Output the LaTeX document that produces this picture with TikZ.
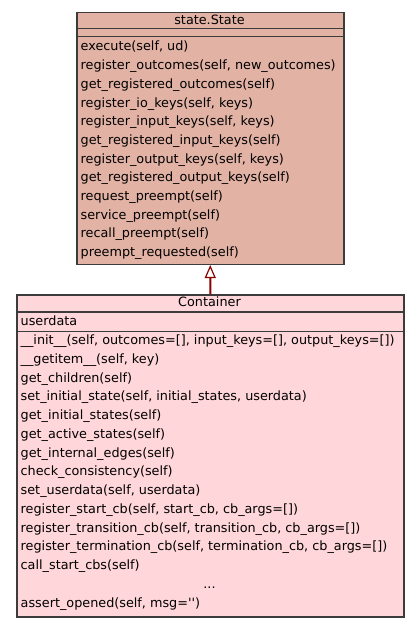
\documentclass[tikz,border=0pt]{standalone}
\usepackage{fontspec}
\newfontfamily\dv{DejaVu Sans}
\usetikzlibrary{arrows.meta}
\definecolor{statefill}{RGB}{226,178,165}
\definecolor{contfill}{RGB}{255,214,218}
\definecolor{boxline}{RGB}{60,60,60}
\definecolor{inhred}{RGB}{140,0,0}
\begin{document}
\begin{tikzpicture}[x=1bp,y=-1bp,
  box/.style={draw=boxline, line width=1.5bp, rectangle, inner sep=0pt, anchor=north west},
  sep/.style={draw=boxline, line width=1.5bp},
  txt/.style={inner sep=0pt, anchor=base west, font=\dv\fontsize{12.8bp}{15bp}\selectfont, text=black},
  ctxt/.style={txt, anchor=base},
  inh/.style={draw=inhred, line width=2bp, -{Triangle[open, length=13bp, width=11bp, line width=1.2bp]}}
]
\useasboundingbox (0,0) rectangle (419,627);
% State box
\node[box, fill=statefill, minimum width=267bp, minimum height=251.5bp] (state) at (76,12) {};
\draw[sep] (76,28.5) -- (343,28.5);
\draw[sep] (76,36.5) -- (343,36.5);
\node[ctxt] (sh) at (209.5,24.5) {state.State};
\foreach \t [count=\i from 0] in {
  execute(self{,} ud),
  register\_outcomes(self{,} new\_outcomes),
  get\_registered\_outcomes(self),
  register\_io\_keys(self{,} keys),
  register\_input\_keys(self{,} keys),
  get\_registered\_input\_keys(self),
  register\_output\_keys(self{,} keys),
  get\_registered\_output\_keys(self),
  request\_preempt(self),
  service\_preempt(self),
  recall\_preempt(self),
  preempt\_requested(self)}
  \node[txt] (sm\i) at (80.5,51+18.68*\i) {\t};
% Container box
\node[box, fill=contfill, minimum width=387bp, minimum height=322bp] (cont) at (16,294) {};
\draw[sep] (16,312) -- (403,312);
\draw[sep] (16,331.5) -- (403,331.5);
\node[ctxt] (ch) at (209.5,306.5) {Container};
\node[txt] (ca) at (20.5,325.7) {userdata};
\foreach \t [count=\i from 0] in {
  \_\_init\_\_(self{,} outcomes=[]{,} input\_keys=[]{,} output\_keys=[]),
  \_\_getitem\_\_(self{,} key),
  get\_children(self),
  set\_initial\_state(self{,} initial\_states{,} userdata),
  get\_initial\_states(self),
  get\_active\_states(self),
  get\_internal\_edges(self),
  check\_consistency(self),
  set\_userdata(self{,} userdata),
  register\_start\_cb(self{,} start\_cb{,} cb\_args=[]),
  register\_transition\_cb(self{,} transition\_cb{,} cb\_args=[]),
  register\_termination\_cb(self{,} termination\_cb{,} cb\_args=[]),
  call\_start\_cbs(self)}
  \node[txt] (cm\i) at (20.5,344.5+18.75*\i) {\t};
\node[ctxt] (cdots) at (209.5,588.3) {...};
\node[txt] (clast) at (20.5,607) {assert\_opened(self, msg=\symbol{39}\symbol{39})};
% inheritance
\draw[inh] (cont.north) -- (state.south);
\end{tikzpicture}
\end{document}
